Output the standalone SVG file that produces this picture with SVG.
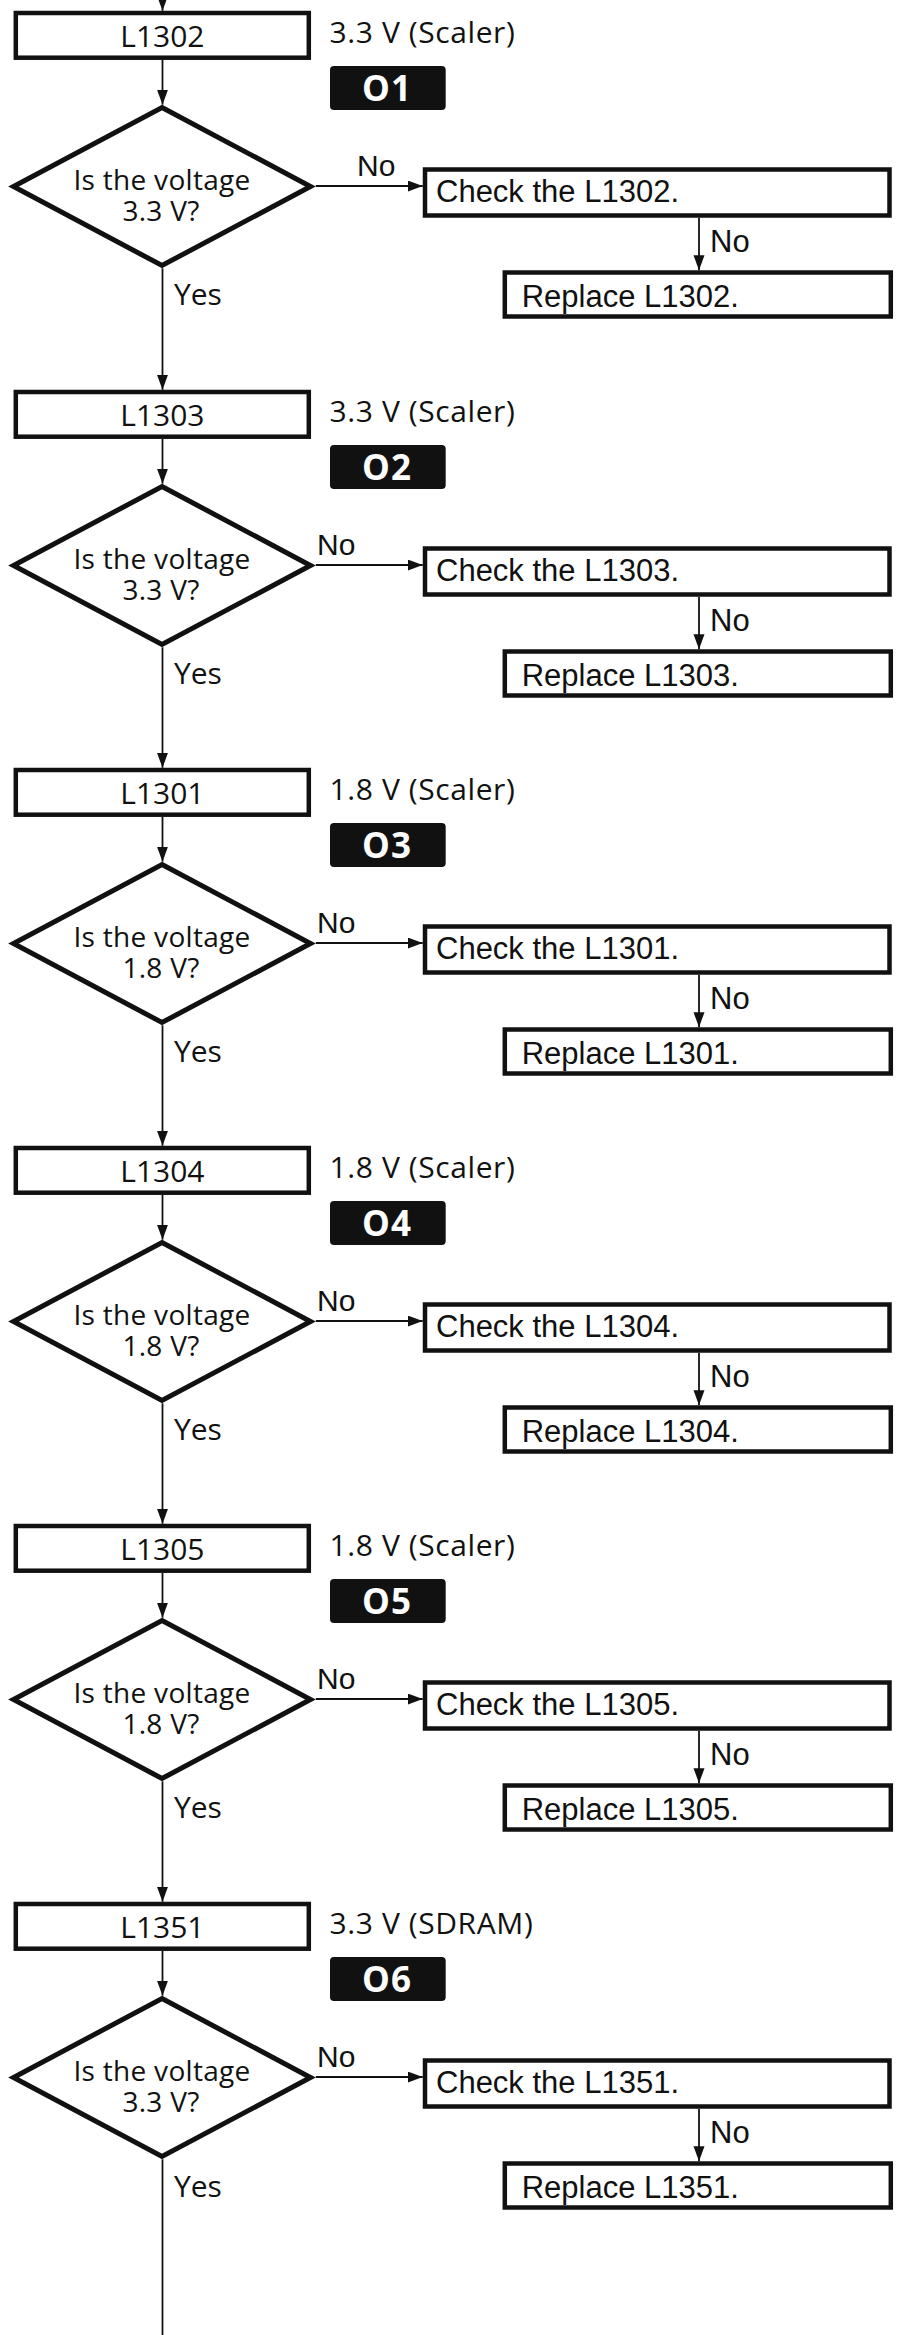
<svg xmlns="http://www.w3.org/2000/svg" width="899" height="2335" viewBox="0 0 899 2335">
<defs>
<style>
.bx{fill:#fff;stroke:#111;stroke-width:4.5}
.dm{fill:#fff;stroke:#111;stroke-width:5;stroke-linejoin:miter;stroke-miterlimit:10}
.bd{fill:#111}
.ln{fill:none;stroke:#111;stroke-width:1.8}
.ar{fill:none;stroke:#111;stroke-width:1.8;marker-end:url(#ah)}
.hs{font-family:"Open Sans","Noto Sans",sans-serif;font-size:30px;fill:#111}
.nt{font-family:"Open Sans","Noto Sans",sans-serif;font-size:30px;fill:#111;letter-spacing:0.6px}
.dt{font-family:"Open Sans","Noto Sans",sans-serif;font-size:28px;fill:#111;text-anchor:middle;letter-spacing:0.3px}
.bt{font-family:"Open Sans","Noto Sans",sans-serif;font-size:35px;font-weight:bold;fill:#fff;text-anchor:middle;letter-spacing:1px}
.ar31{font-family:"Liberation Sans",Arial,sans-serif;font-size:31px;fill:#111}
.no{font-family:"Liberation Sans",Arial,sans-serif;font-size:30px;fill:#111}
</style>
<marker id="ah" markerUnits="userSpaceOnUse" markerWidth="16" markerHeight="12" refX="15" refY="5.5" orient="auto">
<path d="M0,0 L15,5.5 L0,11 z" fill="#111"/>
</marker>
</defs>

<g id="connectors">
<line class="ar" x1="162.5" y1="0" x2="162.5" y2="10.8"/>
<line class="ar" x1="162.5" y1="60" x2="162.5" y2="104.7"/>
<line class="ar" x1="315.8" y1="186" x2="422.7" y2="186"/>
<line class="ar" x1="699" y1="217.8" x2="699" y2="270.2"/>
<line class="ar" x1="162.5" y1="268.3" x2="162.5" y2="389.8"/>
<line class="ar" x1="162.5" y1="439" x2="162.5" y2="483.7"/>
<line class="ar" x1="315.8" y1="565" x2="422.7" y2="565"/>
<line class="ar" x1="699" y1="596.8" x2="699" y2="649.2"/>
<line class="ar" x1="162.5" y1="647.3" x2="162.5" y2="767.8"/>
<line class="ar" x1="162.5" y1="817" x2="162.5" y2="861.7"/>
<line class="ar" x1="315.8" y1="943" x2="422.7" y2="943"/>
<line class="ar" x1="699" y1="974.8" x2="699" y2="1027.2"/>
<line class="ar" x1="162.5" y1="1025.3" x2="162.5" y2="1145.8"/>
<line class="ar" x1="162.5" y1="1195" x2="162.5" y2="1239.7"/>
<line class="ar" x1="315.8" y1="1321" x2="422.7" y2="1321"/>
<line class="ar" x1="699" y1="1352.8" x2="699" y2="1405.2"/>
<line class="ar" x1="162.5" y1="1403.3" x2="162.5" y2="1523.8"/>
<line class="ar" x1="162.5" y1="1573" x2="162.5" y2="1617.7"/>
<line class="ar" x1="315.8" y1="1699" x2="422.7" y2="1699"/>
<line class="ar" x1="699" y1="1730.8" x2="699" y2="1783.2"/>
<line class="ar" x1="162.5" y1="1781.3" x2="162.5" y2="1901.8"/>
<line class="ar" x1="162.5" y1="1951" x2="162.5" y2="1995.7"/>
<line class="ar" x1="315.8" y1="2077" x2="422.7" y2="2077"/>
<line class="ar" x1="699" y1="2108.8" x2="699" y2="2161.2"/>
<line class="ln" x1="162.5" y1="2159.3" x2="162.5" y2="2335"/>
</g>

<g id="labels">
<text class="no" x="357" y="175.7">No</text>
<text class="ar31" x="710" y="251.7">No</text>
<text class="hs" x="174" y="305">Yes</text>
<text class="no" x="317" y="555">No</text>
<text class="ar31" x="710" y="630.7">No</text>
<text class="hs" x="174" y="684">Yes</text>
<text class="no" x="317" y="933">No</text>
<text class="ar31" x="710" y="1008.7">No</text>
<text class="hs" x="174" y="1062">Yes</text>
<text class="no" x="317" y="1311">No</text>
<text class="ar31" x="710" y="1386.7">No</text>
<text class="hs" x="174" y="1440">Yes</text>
<text class="no" x="317" y="1689">No</text>
<text class="ar31" x="710" y="1764.7">No</text>
<text class="hs" x="174" y="1818">Yes</text>
<text class="no" x="317" y="2067">No</text>
<text class="ar31" x="710" y="2142.7">No</text>
<text class="hs" x="174" y="2197">Yes</text>
</g>

<!-- Block 1 -->
<g id="box-L1302"><rect class="bx" x="15.8" y="13" width="293" height="44.7"/><text class="hs" x="162.4" y="46.7" text-anchor="middle">L1302</text></g>
<g id="note-1"><text class="nt" x="329.5" y="43.3">3.3 V (Scaler)</text></g>
<g id="badge-O1"><rect class="bd" x="330" y="66" width="115.7" height="44" rx="4"/><text class="bt" x="387" y="100.5">O1</text></g>
<g id="dec-1"><polygon class="dm" points="162,107.5 310.5,186.5 162,265.5 13.5,186.5"/><text class="dt"><tspan x="162" y="189.5">Is the voltage</tspan><tspan x="161" y="220.5">3.3 V?</tspan></text></g>
<g id="check-L1302"><rect class="bx" x="425" y="169.5" width="464.5" height="46"/><text class="ar31" x="436" y="201.7">Check the L1302.</text></g>
<g id="replace-L1302"><rect class="bx" x="504.8" y="272.5" width="386" height="44"/><text class="ar31" x="521.7" y="306.7">Replace L1302.</text></g>

<!-- Block 2 -->
<g id="box-L1303" transform="translate(0,379)"><rect class="bx" x="15.8" y="13" width="293" height="44.7"/><text class="hs" x="162.4" y="46.7" text-anchor="middle">L1303</text></g>
<g id="note-2" transform="translate(0,379)"><text class="nt" x="329.5" y="43.3">3.3 V (Scaler)</text></g>
<g id="badge-O2" transform="translate(0,379)"><rect class="bd" x="330" y="66" width="115.7" height="44" rx="4"/><text class="bt" x="387" y="100.5">O2</text></g>
<g id="dec-2" transform="translate(0,379)"><polygon class="dm" points="162,107.5 310.5,186.5 162,265.5 13.5,186.5"/><text class="dt"><tspan x="162" y="189.5">Is the voltage</tspan><tspan x="161" y="220.5">3.3 V?</tspan></text></g>
<g id="check-L1303" transform="translate(0,379)"><rect class="bx" x="425" y="169.5" width="464.5" height="46"/><text class="ar31" x="436" y="201.7">Check the L1303.</text></g>
<g id="replace-L1303" transform="translate(0,379)"><rect class="bx" x="504.8" y="272.5" width="386" height="44"/><text class="ar31" x="521.7" y="306.7">Replace L1303.</text></g>

<!-- Block 3 -->
<g id="box-L1301" transform="translate(0,757)"><rect class="bx" x="15.8" y="13" width="293" height="44.7"/><text class="hs" x="162.4" y="46.7" text-anchor="middle">L1301</text></g>
<g id="note-3" transform="translate(0,757)"><text class="nt" x="329.5" y="43.3">1.8 V (Scaler)</text></g>
<g id="badge-O3" transform="translate(0,757)"><rect class="bd" x="330" y="66" width="115.7" height="44" rx="4"/><text class="bt" x="387" y="100.5">O3</text></g>
<g id="dec-3" transform="translate(0,757)"><polygon class="dm" points="162,107.5 310.5,186.5 162,265.5 13.5,186.5"/><text class="dt"><tspan x="162" y="189.5">Is the voltage</tspan><tspan x="161" y="220.5">1.8 V?</tspan></text></g>
<g id="check-L1301" transform="translate(0,757)"><rect class="bx" x="425" y="169.5" width="464.5" height="46"/><text class="ar31" x="436" y="201.7">Check the L1301.</text></g>
<g id="replace-L1301" transform="translate(0,757)"><rect class="bx" x="504.8" y="272.5" width="386" height="44"/><text class="ar31" x="521.7" y="306.7">Replace L1301.</text></g>

<!-- Block 4 -->
<g id="box-L1304" transform="translate(0,1135)"><rect class="bx" x="15.8" y="13" width="293" height="44.7"/><text class="hs" x="162.4" y="46.7" text-anchor="middle">L1304</text></g>
<g id="note-4" transform="translate(0,1135)"><text class="nt" x="329.5" y="43.3">1.8 V (Scaler)</text></g>
<g id="badge-O4" transform="translate(0,1135)"><rect class="bd" x="330" y="66" width="115.7" height="44" rx="4"/><text class="bt" x="387" y="100.5">O4</text></g>
<g id="dec-4" transform="translate(0,1135)"><polygon class="dm" points="162,107.5 310.5,186.5 162,265.5 13.5,186.5"/><text class="dt"><tspan x="162" y="189.5">Is the voltage</tspan><tspan x="161" y="220.5">1.8 V?</tspan></text></g>
<g id="check-L1304" transform="translate(0,1135)"><rect class="bx" x="425" y="169.5" width="464.5" height="46"/><text class="ar31" x="436" y="201.7">Check the L1304.</text></g>
<g id="replace-L1304" transform="translate(0,1135)"><rect class="bx" x="504.8" y="272.5" width="386" height="44"/><text class="ar31" x="521.7" y="306.7">Replace L1304.</text></g>

<!-- Block 5 -->
<g id="box-L1305" transform="translate(0,1513)"><rect class="bx" x="15.8" y="13" width="293" height="44.7"/><text class="hs" x="162.4" y="46.7" text-anchor="middle">L1305</text></g>
<g id="note-5" transform="translate(0,1513)"><text class="nt" x="329.5" y="43.3">1.8 V (Scaler)</text></g>
<g id="badge-O5" transform="translate(0,1513)"><rect class="bd" x="330" y="66" width="115.7" height="44" rx="4"/><text class="bt" x="387" y="100.5">O5</text></g>
<g id="dec-5" transform="translate(0,1513)"><polygon class="dm" points="162,107.5 310.5,186.5 162,265.5 13.5,186.5"/><text class="dt"><tspan x="162" y="189.5">Is the voltage</tspan><tspan x="161" y="220.5">1.8 V?</tspan></text></g>
<g id="check-L1305" transform="translate(0,1513)"><rect class="bx" x="425" y="169.5" width="464.5" height="46"/><text class="ar31" x="436" y="201.7">Check the L1305.</text></g>
<g id="replace-L1305" transform="translate(0,1513)"><rect class="bx" x="504.8" y="272.5" width="386" height="44"/><text class="ar31" x="521.7" y="306.7">Replace L1305.</text></g>

<!-- Block 6 -->
<g id="box-L1351" transform="translate(0,1891)"><rect class="bx" x="15.8" y="13" width="293" height="44.7"/><text class="hs" x="162.4" y="46.7" text-anchor="middle">L1351</text></g>
<g id="note-6" transform="translate(0,1891)"><text class="nt" x="329.5" y="43.3">3.3 V (SDRAM)</text></g>
<g id="badge-O6" transform="translate(0,1891)"><rect class="bd" x="330" y="66" width="115.7" height="44" rx="4"/><text class="bt" x="387" y="100.5">O6</text></g>
<g id="dec-6" transform="translate(0,1891)"><polygon class="dm" points="162,107.5 310.5,186.5 162,265.5 13.5,186.5"/><text class="dt"><tspan x="162" y="189.5">Is the voltage</tspan><tspan x="161" y="220.5">3.3 V?</tspan></text></g>
<g id="check-L1351" transform="translate(0,1891)"><rect class="bx" x="425" y="169.5" width="464.5" height="46"/><text class="ar31" x="436" y="201.7">Check the L1351.</text></g>
<g id="replace-L1351" transform="translate(0,1891)"><rect class="bx" x="504.8" y="272.5" width="386" height="44"/><text class="ar31" x="521.7" y="306.7">Replace L1351.</text></g>
</svg>
